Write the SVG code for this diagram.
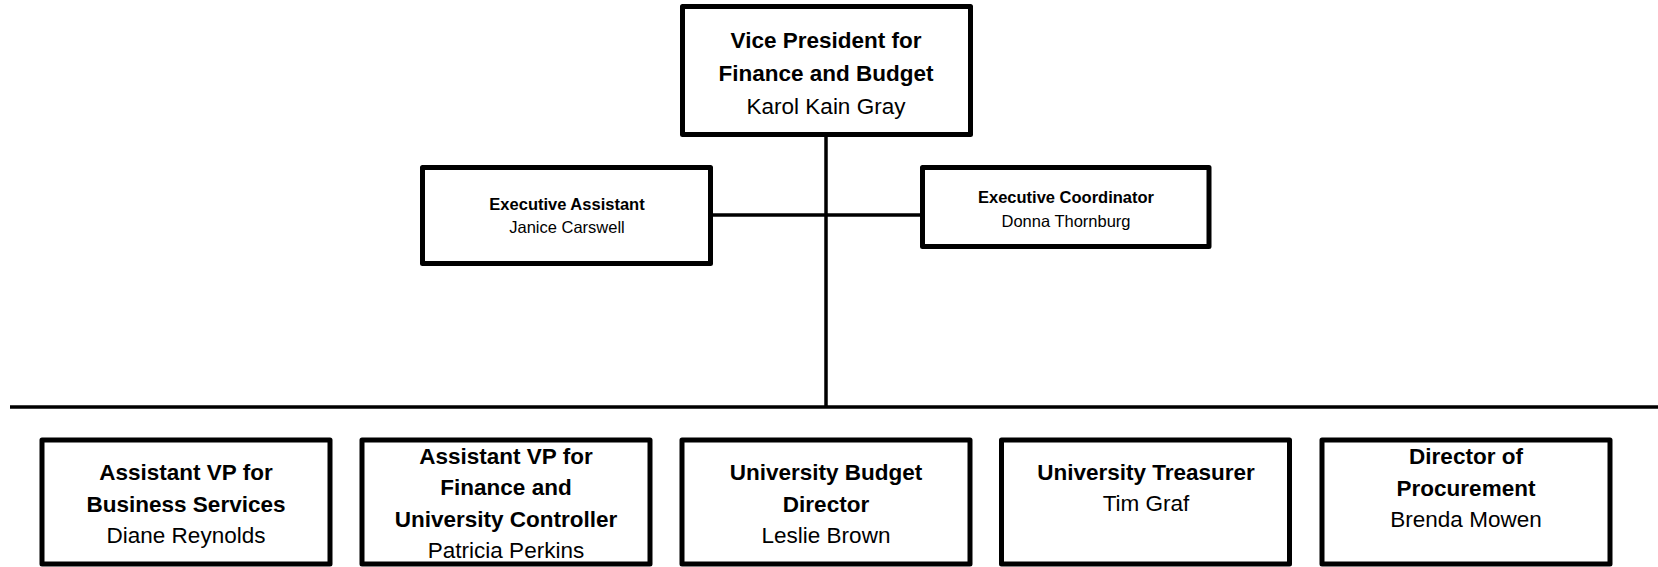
<svg xmlns="http://www.w3.org/2000/svg" width="1658" height="567" viewBox="0 0 1658 567">
<style>
.box{fill:#fff;stroke:#000;stroke-width:5;stroke-linejoin:round}
.conn{stroke:#000;stroke-width:3.5;fill:none}
text{font-family:"Liberation Sans",Arial,sans-serif;text-anchor:middle;fill:#000}
.t{font-size:22.5px;font-weight:bold}
.n{font-size:22.5px}
.ts{font-size:16.5px;font-weight:bold}
.ns{font-size:16.5px}
</style>
<rect width="1658" height="567" fill="#fff"/>
<g id="connectors">
<line class="conn" x1="826" y1="137" x2="826" y2="407"/>
<line class="conn" x1="713" y1="215" x2="920" y2="215"/>
<line class="conn" x1="10" y1="407" x2="1658" y2="407"/>
</g>
<g id="vp">
<rect class="box" x="682.5" y="6.5" width="288" height="128"/>
<text class="t" x="826" y="48">Vice President for</text>
<text class="t" x="826" y="81">Finance and Budget</text>
<text class="n" x="826" y="114">Karol Kain Gray</text>
</g>
<g id="exec-assistant">
<rect class="box" x="422.5" y="167.5" width="288" height="96"/>
<text class="ts" x="567" y="210">Executive Assistant</text>
<text class="ns" x="567" y="233">Janice Carswell</text>
</g>
<g id="exec-coordinator">
<rect class="box" x="922.5" y="167.5" width="286.5" height="79"/>
<text class="ts" x="1066" y="203">Executive Coordinator</text>
<text class="ns" x="1066" y="227">Donna Thornburg</text>
</g>
<g id="avp-business">
<rect class="box" x="42" y="440" width="288" height="124"/>
<text class="t" x="186" y="480">Assistant VP for</text>
<text class="t" x="186" y="512">Business Services</text>
<text class="n" x="186" y="543">Diane Reynolds</text>
</g>
<g id="avp-finance">
<rect class="box" x="362" y="440" width="288" height="124"/>
<text class="t" x="506" y="464">Assistant VP for</text>
<text class="t" x="506" y="495">Finance and</text>
<text class="t" x="506" y="527">University Controller</text>
<text class="n" x="506" y="558">Patricia Perkins</text>
</g>
<g id="budget-director">
<rect class="box" x="682" y="440" width="288" height="124"/>
<text class="t" x="826" y="480">University Budget</text>
<text class="t" x="826" y="512">Director</text>
<text class="n" x="826" y="543">Leslie Brown</text>
</g>
<g id="treasurer">
<rect class="box" x="1001.5" y="440" width="288" height="124"/>
<text class="t" x="1146" y="480">University Treasurer</text>
<text class="n" x="1146" y="511">Tim Graf</text>
</g>
<g id="procurement">
<rect class="box" x="1322" y="440" width="288" height="124"/>
<text class="t" x="1466" y="464">Director of</text>
<text class="t" x="1466" y="496">Procurement</text>
<text class="n" x="1466" y="527">Brenda Mowen</text>
</g>
</svg>
